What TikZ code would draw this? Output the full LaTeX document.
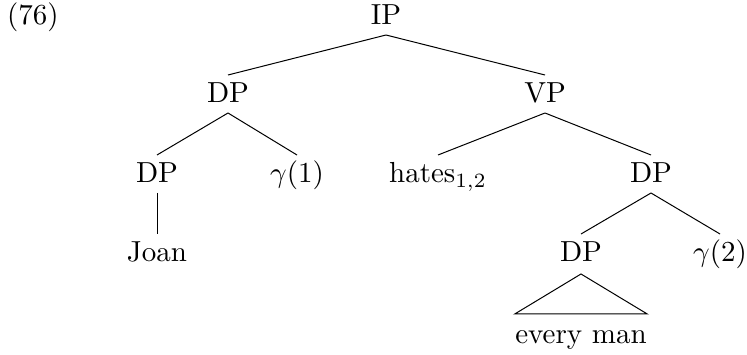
\documentclass[tikz,border=0pt]{standalone}
\usepackage{fontspec}
\begin{document}
\begin{tikzpicture}[x=1pt,y=1pt,
  lab/.style={anchor=base, inner sep=0pt, font=\fontsize{10}{12}\selectfont, scale=2.9},
  edge/.style={line width=1pt}]
\useasboundingbox (0,0) rectangle (747,-355);
\node[lab] (ex) at (33,-25) {(76)};
\node[lab] (ip) at (386,-25) {IP};
\node[lab] (dp1) at (228,-103) {DP};
\node[lab] (vp) at (545,-103) {VP};
\node[lab] (dp2) at (157,-183) {DP};
\node[lab] (g1) at (297,-183) {$\gamma(1)$};
\node[lab] (hates) at (438,-183) {hates$_{1,2}$};
\node[lab] (dp3) at (651,-183) {DP};
\node[lab] (joan) at (157,-262) {Joan};
\node[lab] (dp4) at (581,-262) {DP};
\node[lab] (g2) at (720,-262) {$\gamma(2)$};
\node[lab] (em) at (581,-343) {every man};
\newcommand\treeedge[2]{\draw[edge] ([yshift=-10pt]#1.base) -- ([yshift=28pt]#2.base);}
\treeedge{ip}{dp1}
\treeedge{ip}{vp}
\treeedge{dp1}{dp2}
\treeedge{dp1}{g1}
\treeedge{vp}{hates}
\treeedge{vp}{dp3}
\treeedge{dp2}{joan}
\treeedge{dp3}{dp4}
\treeedge{dp3}{g2}
\draw[edge] ([yshift=-12pt]dp4.base) -- ([yshift=29pt]em.base east) -- ([yshift=29pt]em.base west) -- cycle;
\end{tikzpicture}
\end{document}
